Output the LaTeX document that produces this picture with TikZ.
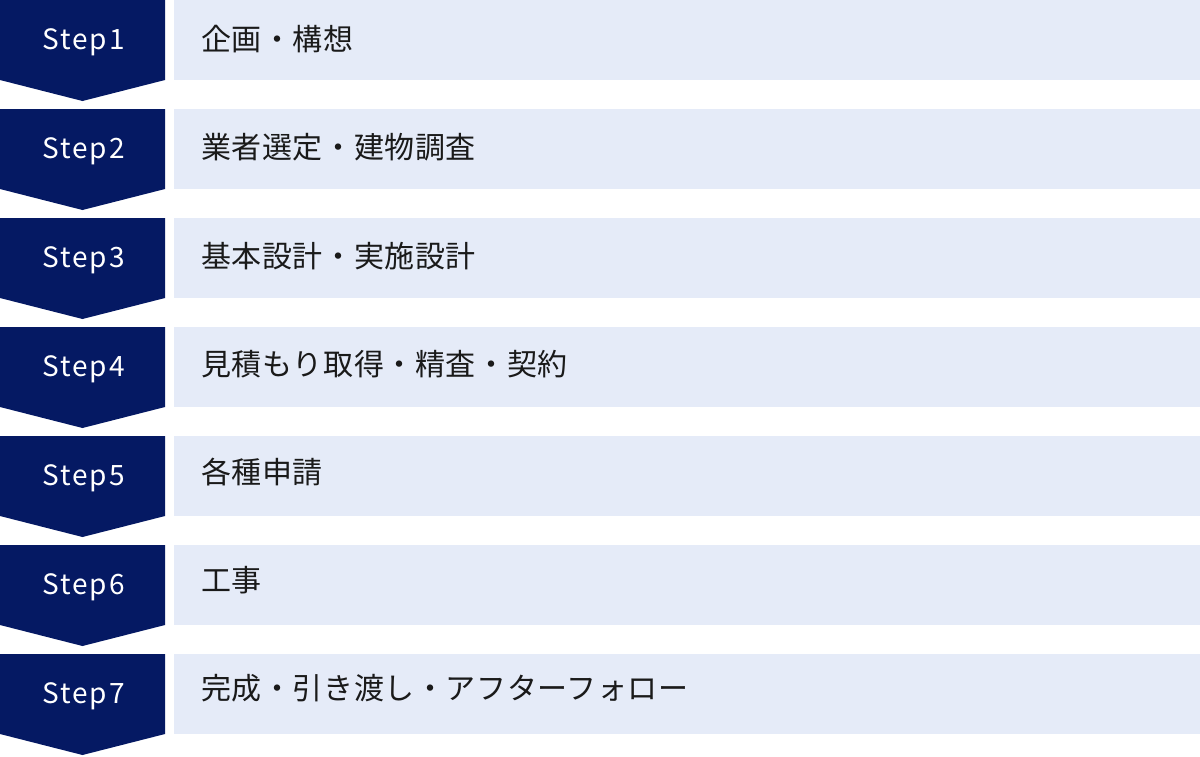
\documentclass[tikz,border=0pt]{standalone}
\usepackage{fontspec}
\setmainfont{Noto Sans CJK JP}
\newfontfamily\stepfont[LetterSpace=7]{Noto Sans CJK JP}
\newfontfamily\taskfont[LetterSpace=2]{Noto Sans CJK JP}
\usetikzlibrary{positioning}

\definecolor{stepnavy}{RGB}{5,25,99}
\definecolor{taskblue}{RGB}{229,235,248}
\definecolor{taskink}{RGB}{26,26,26}

\tikzset{
    steplabel/.style={text=white,inner sep=0pt,font=\stepfont\fontsize{28}{30}\selectfont},
    tasklabel/.style={anchor=west,text=taskink,inner sep=0pt,font=\taskfont\fontsize{30}{32}\selectfont},
}

\begin{document}
\begin{tikzpicture}[x=1pt,y=-1pt]
    \useasboundingbox (0,0) rectangle (1200,756);
    \foreach \i/\task in {1/企画・構想,2/業者選定・建物調査,3/基本設計・実施設計,4/見積もり取得・精査・契約,5/各種申請,6/工事,7/完成・引き渡し・アフターフォロー}{
        \pgfmathsetmacro{\ytop}{(\i-1)*109}
        \fill[taskblue] (174,\ytop) rectangle (1200,\ytop+80);
        \fill[stepnavy] (0,\ytop) -- ++(165,0) -- ++(0,80) -- ++(-82.5,21) -- ++(-82.5,-21) -- cycle;
        \node[steplabel] (step\i) at (83.5,\ytop+42.5) {Step\i};
        \node[tasklabel] (task\i) at (201,\ytop+39.5-0.9*\i+0.9) {\task};
    }
\end{tikzpicture}
\end{document}
